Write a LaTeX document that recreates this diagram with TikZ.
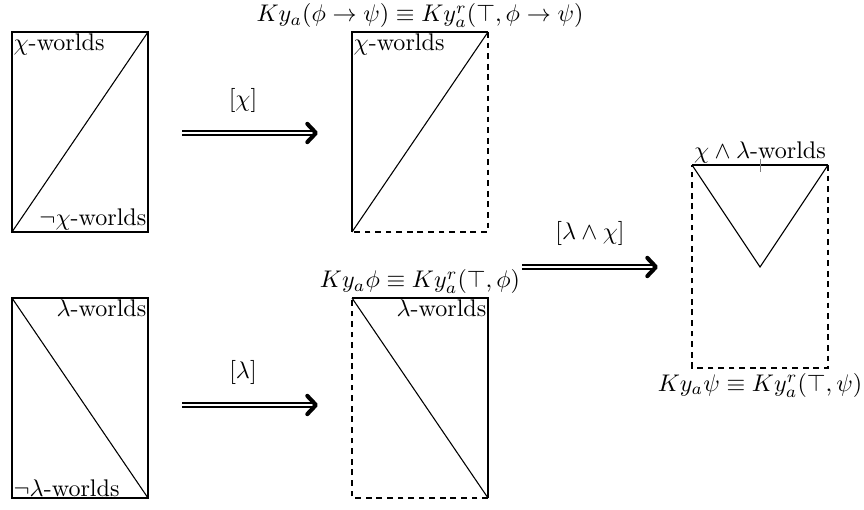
\documentclass[tikz,border=0pt]{standalone}
\usepackage{amsmath,amssymb}
\usetikzlibrary{arrows.meta, positioning, calc}
\tikzset{
  world/.style={inner sep=0.5pt, font=\normalsize},
  solidedge/.style={line width=0.45pt},
  dashedge/.style={line width=0.45pt, dash pattern=on 2.4pt off 2pt},
  upd/.style={double, double distance=1.2pt, line width=0.55pt,
    -{Straight Barb[length=3.6pt, width=7.6pt, line width=1.7pt, line cap=round, line join=round]}},
  updlbl/.style={font=\normalsize},
}
\begin{document}
\begin{tikzpicture}[x=0.0146cm, y=-0.0146cm]
\useasboundingbox (0,0) rectangle (864,510);

% ── corners of the five boxes ─────────────────────────────────────────
\coordinate (chiNW) at (12,32);   \coordinate (chiSE) at (148,232);
\coordinate (lamNW) at (12,298);  \coordinate (lamSE) at (148,498);
\coordinate (chaNW) at (352,32);  \coordinate (chaSE) at (488,232);
\coordinate (laaNW) at (352,298); \coordinate (laaSE) at (488,498);
\coordinate (botNW) at (692,165); \coordinate (botSE) at (828,368);

% ── top-left: chi split ──────────────────────────────────────────────
\draw[solidedge] (chiNW) rectangle (chiSE);
\draw[solidedge] (chiNW |- chiSE) -- (chiSE |- chiNW);
\node[world, anchor=north west] (chiw) at (chiNW) {$\chi$-worlds};
\node[world, anchor=south east] (nchiw) at (chiSE) {$\neg\chi$-worlds};

% ── bottom-left: lambda split ────────────────────────────────────────
\draw[solidedge] (lamNW) rectangle (lamSE);
\draw[solidedge] (lamNW) -- (lamSE);
\node[world, anchor=north east] (lamw) at (lamSE |- lamNW) {$\lambda$-worlds};
\node[world, anchor=south west] (nlamw) at (lamNW |- lamSE) {$\neg\lambda$-worlds};

% ── top-middle: after [chi] ──────────────────────────────────────────
\draw[solidedge] (chaNW |- chaSE) -- (chaNW) -- (chaSE |- chaNW);
\draw[dashedge] (chaSE |- chaNW) -- (chaSE) -- (chaNW |- chaSE);
\draw[solidedge] (chaNW |- chaSE) -- (chaSE |- chaNW);
\node[world, anchor=north west] (chaw) at (chaNW) {$\chi$-worlds};
\node[anchor=south, inner sep=1.5pt] (kimp) at ($(chaNW)!0.5!(chaSE |- chaNW)$)
  {$Ky_a(\phi\rightarrow\psi)\equiv Ky^r_a(\top,\phi\rightarrow\psi)$};

% ── bottom-middle: after [lambda] ────────────────────────────────────
\draw[solidedge] (laaNW) -- (laaSE |- laaNW) -- (laaSE);
\draw[dashedge] (laaSE) -- (laaNW |- laaSE) -- (laaNW);
\draw[solidedge] (laaNW) -- (laaSE);
\node[world, anchor=north east] (laaw) at (laaSE |- laaNW) {$\lambda$-worlds};
\node[anchor=south, inner sep=1.5pt] (kphi) at ($(laaNW)!0.5!(laaSE |- laaNW)$)
  {$Ky_a\phi\equiv Ky^r_a(\top,\phi)$};

% ── right: after [lambda and chi] ────────────────────────────────────
\coordinate (apex) at ($(botNW)!0.5!(botSE |- botNW) + (0,102)$);
\coordinate (tick) at ($(botNW)!0.5!(botSE |- botNW)$);
\draw[solidedge] (botNW) -- (botSE |- botNW);
\draw[dashedge] (botSE |- botNW) -- (botSE) -- (botNW |- botSE) -- (botNW);
\draw[solidedge] (botNW) -- (apex) -- (botSE |- botNW);
\draw[line width=0.4pt, gray] ($(tick)+(0,-6)$) -- ($(tick)+(0,7)$);
\node[world, anchor=south] (both) at (tick) {$\chi\wedge\lambda$-worlds};
\node[anchor=north, inner sep=2pt] (kpsi) at ($(botNW |- botSE)!0.5!(botSE)$)
  {$Ky_a\psi\equiv Ky^r_a(\top,\psi)$};

% ── update arrows ────────────────────────────────────────────────────
\coordinate (u1s) at (182,133); \coordinate (u1e) at (318,133);
\coordinate (u2s) at (182,405); \coordinate (u2e) at (318,405);
\coordinate (u3s) at (522,267); \coordinate (u3e) at (658,267);
\draw[upd] (u1s) -- (u1e);
\draw[upd] (u2s) -- (u2e);
\draw[upd] (u3s) -- (u3e);
\node[updlbl] (l1) at (243,100) {$[\chi]$};
\node[updlbl] (l2) at (243,372) {$[\lambda]$};
\node[updlbl] (l3) at (590,233) {$[\lambda\wedge\chi]$};

\end{tikzpicture}
\end{document}
